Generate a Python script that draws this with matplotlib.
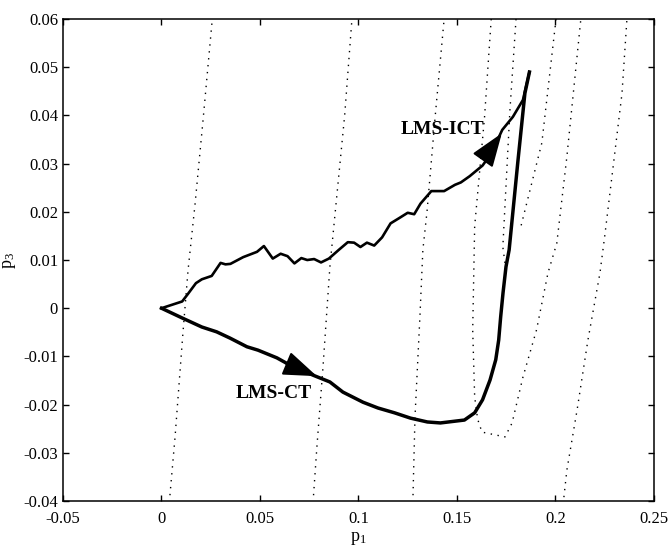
import numpy as np
import matplotlib
matplotlib.use("Agg")
import matplotlib.pyplot as plt

plt.rcParams['font.family'] = ['Liberation Serif', 'DejaVu Serif']
plt.rcParams['mathtext.default'] = 'regular'

# LMS-ICT trajectory (upper)
ict_p1 = [0, 0.0105, 0.0135, 0.0175, 0.0205, 0.0255, 0.0300, 0.0325, 0.0350, 0.0415,
          0.0485, 0.0520, 0.0565, 0.0605, 0.0640, 0.0675, 0.0710, 0.0740, 0.0775, 0.0810,
          0.0850, 0.0900, 0.0946, 0.0978, 0.1010, 0.1043, 0.1080, 0.1120, 0.1163, 0.1207,
          0.1250, 0.1283, 0.1315, 0.1370, 0.1435, 0.1490, 0.1520, 0.1565, 0.1630, 0.1674,
          0.1730, 0.1784, 0.1835, 0.1868]
ict_p3 = [0, 0.0014, 0.0030, 0.0052, 0.0060, 0.0067, 0.0094, 0.0091, 0.0092, 0.0106,
          0.0117, 0.0129, 0.0103, 0.0113, 0.0108, 0.0093, 0.0104, 0.0100, 0.0102, 0.0095,
          0.0103, 0.0121, 0.0137, 0.0136, 0.0127, 0.0136, 0.0130, 0.0147, 0.0176, 0.0187,
          0.0198, 0.0195, 0.0217, 0.0243, 0.0243, 0.0256, 0.0261, 0.0274, 0.0296, 0.0321,
          0.0370, 0.0397, 0.0432, 0.0490]

# LMS-CT trajectory (lower)
ct_p1 = [0, 0.0109, 0.0205, 0.0280, 0.0348, 0.0434, 0.0490, 0.0586, 0.0652, 0.0770,
         0.0855, 0.0921, 0.1023, 0.1099, 0.1183, 0.1264, 0.1350, 0.1416, 0.1538, 0.1590,
         0.1630, 0.1668, 0.1697, 0.1712, 0.1722, 0.1734, 0.1749, 0.1765, 0.1810, 0.1845,
         0.1868]
ct_p3 = [0, -0.0021, -0.0039, -0.0049, -0.0062, -0.0080, -0.0087, -0.0103, -0.0118, -0.0139,
         -0.0153, -0.0174, -0.0195, -0.0207, -0.0217, -0.0228, -0.0236, -0.0238, -0.0232, -0.0217,
         -0.0190, -0.0149, -0.0107, -0.0066, -0.0018, 0.0032, 0.0086, 0.0121, 0.0307, 0.0446,
         0.0490]

# dotted contour lines
contours = [
    ([0.0043, 0.0069, 0.0109, 0.0135, 0.0170, 0.0211, 0.0258],
     [-0.0388, -0.0267, -0.0051, 0.0079, 0.0214, 0.0390, 0.0600]),
    ([0.0772, 0.0789, 0.0820, 0.0855, 0.0930, 0.0967],
     [-0.0388, -0.0288, -0.0122, 0.0086, 0.0400, 0.0600]),
    ([0.1277, 0.1287, 0.1312, 0.1327, 0.1348, 0.1390, 0.1435],
     [-0.0388, -0.0226, -0.0018, 0.0121, 0.0200, 0.0400, 0.0600]),
    ([0.1674, 0.1640, 0.1590, 0.1580, 0.1590, 0.1605, 0.1627, 0.1744, 0.1780, 0.1835,
      0.1904, 0.1962, 0.2007, 0.2058, 0.2129],
     [0.0600, 0.0396, 0.0170, -0.0045, -0.0184, -0.0230, -0.0257, -0.0267, -0.0238, -0.0143,
      -0.0045, 0.0073, 0.0135, 0.0314, 0.0600]),
    ([0.1800, 0.1769, 0.1733, 0.1745],
     [0.0600, 0.0411, 0.0127, 0.0090]),
    ([0.2003, 0.1931, 0.1820],
     [0.0600, 0.0343, 0.0162]),
    ([0.2043, 0.2058, 0.2110, 0.2165, 0.2226, 0.2251, 0.2338, 0.2363],
     [-0.0392, -0.0336, -0.0211, -0.0066, 0.0073, 0.0152, 0.0446, 0.0600]),
]

# arrow heads (tail -> tip) and labels
ict_arrow = [(0.1640, 0.0312), (0.1728, 0.0363)]
ct_arrow = [(0.0630, -0.0114), (0.0789, -0.0141)]

xticks = [-0.05, 0, 0.05, 0.1, 0.15, 0.2, 0.25]
xticklabels = ['-0.05', '0', '0.05', '0.1', '0.15', '0.2', '0.25']
yticks = [-0.04, -0.03, -0.02, -0.01, 0, 0.01, 0.02, 0.03, 0.04, 0.05, 0.06]
yticklabels = ['-0.04', '-0.03', '-0.02', '-0.01', '0', '0.01', '0.02', '0.03', '0.04', '0.05', '0.06']

fig = plt.figure(figsize=(6.7, 5.51), dpi=100)
ax = fig.add_axes([0.094, 0.0907, 0.882, 0.8748])

for cx, cy in contours:
    ax.plot(cx, cy, color='k', lw=1.0, dashes=[1, 4])

ax.plot(ict_p1, ict_p3, color='k', lw=1.9, solid_joinstyle='round')
ax.plot(ct_p1, ct_p3, color='k', lw=2.5, solid_joinstyle='round')

for tail, tip in [ict_arrow, ct_arrow]:
    ax.annotate('', xy=tip, xytext=tail,
                arrowprops=dict(arrowstyle='-|>,head_length=1.05,head_width=0.38',
                                mutation_scale=20, color='k', lw=1.5,
                                shrinkA=0, shrinkB=0))

ax.text(0.1424, 0.0370, 'LMS-ICT', fontsize=14, fontweight='bold', ha='center', va='center')
ax.text(0.0569, -0.0176, 'LMS-CT', fontsize=14, fontweight='bold', ha='center', va='center')

ax.set_xlim(-0.05, 0.25)
ax.set_ylim(-0.04, 0.06)
ax.set_xticks(xticks)
ax.set_xticklabels(xticklabels)
ax.set_yticks(yticks)
ax.set_yticklabels(yticklabels)
ax.tick_params(direction='in', top=True, right=True, length=4.5, width=1, labelsize=12)
ax.tick_params(axis='x', pad=7)
for s in ax.spines.values():
    s.set_linewidth(1.1)

ax.set_xlabel('p$_1$', fontsize=13, labelpad=2)
ax.set_ylabel('p$_3$', fontsize=13, labelpad=4)

fig.savefig('out.png', dpi=100)
